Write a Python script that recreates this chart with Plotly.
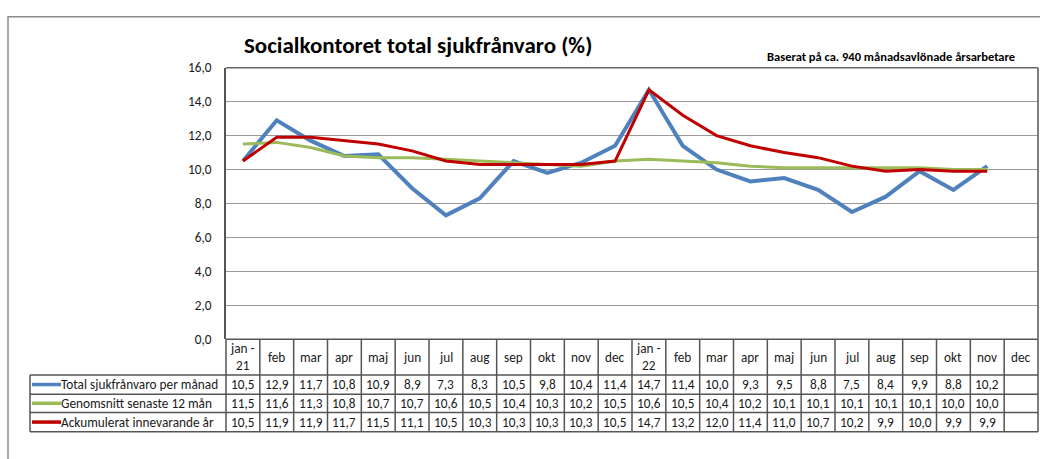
import plotly.graph_objects as go

W, H = 1040, 459

months = ["jan -<br>21", "feb", "mar", "apr", "maj", "jun", "jul", "aug", "sep", "okt", "nov", "dec",
          "jan -<br>22", "feb", "mar", "apr", "maj", "jun", "jul", "aug", "sep", "okt", "nov", "dec"]
total = [10.5, 12.9, 11.7, 10.8, 10.9, 8.9, 7.3, 8.3, 10.5, 9.8, 10.4, 11.4,
         14.7, 11.4, 10.0, 9.3, 9.5, 8.8, 7.5, 8.4, 9.9, 8.8, 10.2, None]
avg12 = [11.5, 11.6, 11.3, 10.8, 10.7, 10.7, 10.6, 10.5, 10.4, 10.3, 10.2, 10.5,
         10.6, 10.5, 10.4, 10.2, 10.1, 10.1, 10.1, 10.1, 10.1, 10.0, 10.0, None]
accum = [10.5, 11.9, 11.9, 11.7, 11.5, 11.1, 10.5, 10.3, 10.3, 10.3, 10.3, 10.5,
         14.7, 13.2, 12.0, 11.4, 11.0, 10.7, 10.2, 9.9, 10.0, 9.9, 9.9, None]
series_names = ["Total sjukfrånvaro per månad", "Genomsnitt senaste 12 mån", "Ackumulerat innevarande år"]
series_colors = ["#4F81BD", "#9BBB59", "#C00000"]
series_widths = [4, 3, 3]
series = [total, avg12, accum]
y_ticks = [0, 2, 4, 6, 8, 10, 12, 14, 16]

FONT = "Carlito, Lato, sans-serif"
FS = 13.3
TXT = "#1a1a1a"

# plot area in pixels
PL, PR, PT, PB = 226, 1038, 62, 344
n = len(months)
cw = (PR - PL) / n


def px(x):
    return x / W


def py(y):
    return 1 - y / H


fig = go.Figure()
xs = list(range(n))
for name, vals, col, lw in zip(series_names, series, series_colors, series_widths):
    fig.add_trace(go.Scatter(x=xs, y=vals, mode="lines", name=name,
                             line=dict(color=col, width=lw), connectgaps=False,
                             hoverinfo="skip"))

shapes = []
ann = []

# outer chart border
shapes.append(dict(type="rect", xref="paper", yref="paper", x0=px(8), x1=px(1050), y0=py(9), y1=py(470),
                   line=dict(color="#8C8C8C", width=1.5), layer="below"))
# plot area right / top border
shapes.append(dict(type="line", xref="paper", yref="paper", x0=px(PR), x1=px(PR), y0=py(PT), y1=py(PB),
                   line=dict(color="#555555", width=1.5)))
shapes.append(dict(type="line", xref="paper", yref="paper", x0=px(PL), x1=px(PR), y0=py(PT), y1=py(PT),
                   line=dict(color="#666666", width=1.5)))

# table geometry
row_tops = [PB, 381, 401, 420, 440]
TL = 30
lc = "#555555"
for yy in row_tops:
    x0 = PL if yy == PB else TL
    shapes.append(dict(type="line", xref="paper", yref="paper", x0=px(x0), x1=px(PR),
                       y0=py(yy), y1=py(yy), line=dict(color=lc, width=1.5)))
for i in range(n + 1):
    xx = PL + i * cw
    shapes.append(dict(type="line", xref="paper", yref="paper", x0=px(xx), x1=px(xx),
                       y0=py(PB), y1=py(row_tops[-1]), line=dict(color=lc, width=1.5)))
shapes.append(dict(type="line", xref="paper", yref="paper", x0=px(TL), x1=px(TL),
                   y0=py(row_tops[1]), y1=py(row_tops[-1]), line=dict(color=lc, width=1.5)))

# header labels
for i, m in enumerate(months):
    ann.append(dict(x=i, xref="x", y=py((PB + row_tops[1]) / 2), yref="paper", text=m,
                    showarrow=False, font=dict(family=FONT, size=FS, color=TXT),
                    xanchor="center", yanchor="middle"))

# rows
for r, (name, vals, col) in enumerate(zip(series_names, series, series_colors)):
    yc = (row_tops[r + 1] + row_tops[r + 2]) / 2
    shapes.append(dict(type="line", xref="paper", yref="paper", x0=px(32), x1=px(61),
                       y0=py(yc), y1=py(yc), line=dict(color=col, width=3.5)))
    ann.append(dict(x=px(59), xref="paper", y=py(yc), yref="paper", text=name,
                    showarrow=False, font=dict(family=FONT, size=FS, color=TXT),
                    xanchor="left", yanchor="middle"))
    for i, v in enumerate(vals):
        if v is None:
            continue
        ann.append(dict(x=i, xref="x", y=py(yc), yref="paper",
                        text=f"{v:.1f}".replace(".", ","), showarrow=False,
                        font=dict(family=FONT, size=FS, color=TXT),
                        xanchor="center", yanchor="middle"))

# title and note
ann.append(dict(x=px(418), xref="paper", y=py(38), yref="paper",
                text="<b>Socialkontoret total sjukfrånvaro (%)</b>", showarrow=False,
                font=dict(family=FONT, size=23, color="#000000"), xanchor="center", yanchor="middle"))
ann.append(dict(x=px(1017), xref="paper", y=py(50), yref="paper",
                text="<b>Baserat på ca. 940 månadsavlönade årsarbetare</b>", showarrow=False,
                font=dict(family=FONT, size=12.5, color="#000000"), xanchor="right", yanchor="middle"))

fig.update_layout(
    width=W, height=H,
    margin=dict(l=0, r=0, t=0, b=0),
    paper_bgcolor="white", plot_bgcolor="white",
    showlegend=False,
    shapes=shapes, annotations=ann,
    xaxis=dict(domain=[px(PL), px(PR)], range=[-0.5, n - 0.5], showticklabels=False,
               showgrid=False, zeroline=False, showline=False, ticks=""),
    yaxis=dict(domain=[py(PB), py(PT)], range=[0, 16], tickvals=y_ticks,
               ticktext=[f"{t:.1f}".replace(".", ",") for t in y_ticks],
               showgrid=True, gridcolor="#9A9A9A", gridwidth=1, zeroline=False,
               showline=True, linecolor="#555555", linewidth=1.5, ticks="", ticklabelstandoff=10,
               tickfont=dict(family=FONT, size=FS, color=TXT)),
)

fig.write_html("out.html", config={"displayModeBar": False},
               post_script="document.body.style.margin='0';document.body.style.overflow='hidden';")
